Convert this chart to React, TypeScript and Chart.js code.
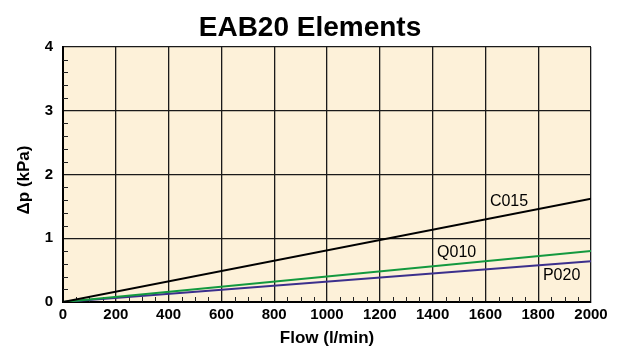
import React, { useEffect, useRef } from "react";
import { Chart, registerables } from "chart.js";

Chart.register(...registerables);

const seriesNames = ["C015", "Q010", "P020"];
const flowPoints = [0, 2000];
const c015Values = [0, 1.62];
const q010Values = [0, 0.8];
const p020Values = [0, 0.64];
const seriesColors = ["#000000", "#13993f", "#3b2f8c"];
const labelPositions = [
  { x: 1617, y: 1.58 },
  { x: 1417, y: 0.77 },
  { x: 1818, y: 0.42 },
];
const xTickValues = [0, 200, 400, 600, 800, 1000, 1200, 1400, 1600, 1800, 2000];
const yTickValues = [0, 1, 2, 3, 4];

const FONT = "'Liberation Sans', Arial, Helvetica, sans-serif";

const decorPlugin = {
  id: "decor",
  beforeDatasetsDraw(chart: any) {
    const { ctx, chartArea, scales } = chart;
    const xs = scales.x;
    const ys = scales.y;
    ctx.save();
    ctx.strokeStyle = "#222";
    ctx.lineWidth = 1;
    for (let v = 50; v < 2000; v += 50) {
      if (v % 200 === 0) continue;
      const px = Math.round(xs.getPixelForValue(v)) + 0.5;
      ctx.beginPath();
      ctx.moveTo(px, chartArea.bottom);
      ctx.lineTo(px, chartArea.bottom - 5);
      ctx.stroke();
    }
    for (let v = 0.2; v < 4; v += 0.2) {
      if (Math.abs(v - Math.round(v)) < 0.01) continue;
      const py = Math.round(ys.getPixelForValue(v)) + 0.5;
      ctx.beginPath();
      ctx.moveTo(chartArea.left, py);
      ctx.lineTo(chartArea.left + 5, py);
      ctx.stroke();
    }
    ctx.restore();
  },
  afterDraw(chart: any) {
    const { ctx, chartArea, scales } = chart;
    ctx.save();
    ctx.fillStyle = "#000";
    ctx.textAlign = "center";
    ctx.textBaseline = "middle";
    ctx.font = `bold 28px ${FONT}`;
    ctx.fillText("EAB20 Elements", 310, 28);
    ctx.font = `bold 17px ${FONT}`;
    ctx.fillText("Flow (l/min)", (chartArea.left + chartArea.right) / 2, 338);
    ctx.save();
    ctx.translate(24, 180);
    ctx.rotate(-Math.PI / 2);
    ctx.fillText("\u0394p (kPa)", 0, 0);
    ctx.restore();
    ctx.font = `16px ${FONT}`;
    ctx.textAlign = "left";
    seriesNames.forEach((n, i) => {
      const p = labelPositions[i];
      ctx.fillText(n, scales.x.getPixelForValue(p.x), scales.y.getPixelForValue(p.y));
    });
    ctx.restore();
  },
};

const bgPlugin = {
  id: "bg",
  beforeDraw(chart: any) {
    const { ctx, chartArea } = chart;
    ctx.save();
    ctx.fillStyle = "#fdf1d9";
    ctx.fillRect(chartArea.left, chartArea.top, chartArea.right - chartArea.left, chartArea.bottom - chartArea.top);
    ctx.restore();
  },
};

export default function App() {
  const ref = useRef<HTMLCanvasElement>(null);
  useEffect(() => {
    document.body.style.margin = "0";
    const valuesList = [c015Values, q010Values, p020Values];
    const chart = new Chart(ref.current!, {
      type: "line",
      data: {
        datasets: seriesNames.map((n, i) => ({
          label: n,
          data: flowPoints.map((x, j) => ({ x, y: valuesList[i][j] })),
          borderColor: seriesColors[i],
          borderWidth: 2,
          pointRadius: 0,
          tension: 0,
        })),
      },
      options: {
        responsive: false,
        animation: false,
        layout: { padding: { top: 47, right: 32, left: 0, bottom: 0 } },
        plugins: { legend: { display: false }, tooltip: { enabled: false } },
        scales: {
          x: {
            type: "linear",
            min: 0,
            max: 2000,
            afterBuildTicks: (s: any) => {
              s.ticks = xTickValues.map((v) => ({ value: v }));
            },
            afterFit: (s: any) => {
              s.height = 45;
            },
            grid: { color: "#1a1a1a", lineWidth: 1.3, drawTicks: false },
            border: { color: "#000", width: 2 },
            ticks: {
              padding: 4,
              color: "#000",
              font: { family: FONT, size: 15, weight: "bold" },
              maxRotation: 0,
              callback: (v: any) => String(v),
            },
          },
          y: {
            type: "linear",
            min: 0,
            max: 4,
            afterBuildTicks: (s: any) => {
              s.ticks = yTickValues.map((v) => ({ value: v }));
            },
            afterFit: (s: any) => {
              s.width = 63;
            },
            grid: { color: "#1a1a1a", lineWidth: 1.3, drawTicks: false },
            border: { color: "#000", width: 2 },
            ticks: {
              padding: 10,
              color: "#000",
              font: { family: FONT, size: 15, weight: "bold" },
              callback: (v: any) => String(v),
            },
          },
        },
      },
      plugins: [bgPlugin, decorPlugin],
    });
    return () => chart.destroy();
  }, []);
  return <canvas ref={ref} width={623} height={347} style={{ display: "block" }} />;
}
